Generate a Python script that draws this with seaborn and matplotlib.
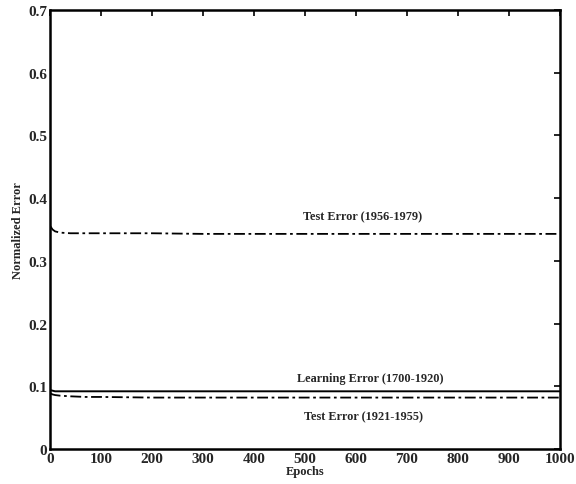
import matplotlib
matplotlib.use("Agg")
import matplotlib.pyplot as plt
import seaborn as sns
import pandas as pd

epochs = [0, 5, 10, 20, 40, 70, 100, 200, 300, 400, 500, 600, 700, 800, 900, 1000]
test_late = [0.356, 0.350, 0.347, 0.345, 0.344, 0.344, 0.344, 0.344, 0.343, 0.343, 0.343, 0.343, 0.343, 0.343, 0.343, 0.343]
learning = [0.094, 0.093, 0.092, 0.092, 0.092, 0.092, 0.092, 0.092, 0.092, 0.092, 0.092, 0.092, 0.092, 0.092, 0.092, 0.092]
test_early = [0.089, 0.087, 0.086, 0.085, 0.084, 0.083, 0.083, 0.082, 0.082, 0.082, 0.082, 0.082, 0.082, 0.082, 0.082, 0.082]

labels = ["Test Error (1956-1979)", "Learning Error (1700-1920)", "Test Error (1921-1955)"]
xticks = list(range(0, 1001, 100))
yticks = [0, 0.1, 0.2, 0.3, 0.4, 0.5, 0.6, 0.7]
ytick_labels = ["0", "0.1", "0.2", "0.3", "0.4", "0.5", "0.6", "0.7"]

sns.set_style("white")
plt.rcParams["font.family"] = ["Liberation Serif", "DejaVu Serif"]
plt.rcParams["font.weight"] = "bold"

df = pd.DataFrame({"Epochs": epochs, "late": test_late, "learn": learning, "early": test_early})

fig = plt.figure(figsize=(5.76, 4.85), dpi=100)
ax = fig.add_axes([50/576, 1 - 450/485, 510/576, 439/485])

dashdot = (0, (6, 2, 1.5, 2))
sns.lineplot(data=df, x="Epochs", y="late", ax=ax, color="black", lw=1.3, linestyle=dashdot)
sns.lineplot(data=df, x="Epochs", y="learn", ax=ax, color="black", lw=1.4, linestyle="-")
sns.lineplot(data=df, x="Epochs", y="early", ax=ax, color="black", lw=1.3, linestyle=dashdot)

ax.set_xlim(0, 1000)
ax.set_ylim(0, 0.7)
ax.set_xticks(xticks)
ax.set_xticklabels([str(t) for t in xticks])
ax.set_yticks(yticks)
ax.set_yticklabels(ytick_labels)
ax.tick_params(direction="in", length=4, width=1.2, top=True, right=True, labelsize=11, pad=2, color="black")
for lab in ax.get_xticklabels() + ax.get_yticklabels():
    lab.set_fontweight("bold")
for s in ax.spines.values():
    s.set_visible(True)
    s.set_color("black")
    s.set_linewidth(1.8)

ax.set_xlabel("Epochs", fontsize=9, fontweight="bold", labelpad=0)
ax.set_ylabel("Normalized Error", fontsize=9, fontweight="bold", labelpad=3)

ax.text(612, 0.371, labels[0], ha="center", va="center", fontsize=8.8, fontweight="bold")
ax.text(627, 0.114, labels[1], ha="center", va="center", fontsize=8.8, fontweight="bold")
ax.text(615, 0.052, labels[2], ha="center", va="center", fontsize=8.8, fontweight="bold")

fig.savefig("out.png", dpi=100)
